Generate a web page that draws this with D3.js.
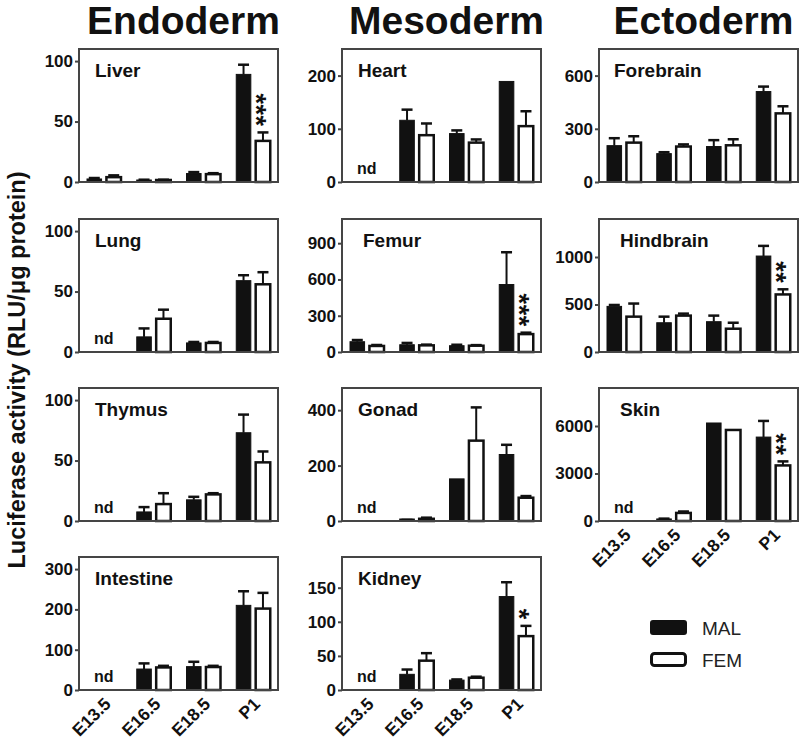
<!DOCTYPE html>
<html>
<head>
<meta charset="utf-8">
<script src="https://cdn.jsdelivr.net/npm/d3@7"></script>
<style>
  html, body { margin: 0; padding: 0; background: #fff; }
  svg { display: block; }
  text { font-family: "Liberation Sans", Arial, Helvetica, sans-serif; }
</style>
</head>
<body>
<script>
// ---------------- DATA ----------------
const categories = ["E13.5", "E16.5", "E18.5", "P1"];
const series = ["MAL", "FEM"];
const germLayers = ["Endoderm", "Mesoderm", "Ectoderm"];
const yAxisTitle = "Luciferase activity (RLU/\u03bcg protein)";

const panels = ["Liver", "Lung", "Thymus", "Intestine",
                "Heart", "Femur", "Gonad", "Kidney",
                "Forebrain", "Hindbrain", "Skin"];
const panelLayer = [0, 0, 0, 0, 1, 1, 1, 1, 2, 2, 2];

// y-axis maxima and tick labels per panel
const yMax = [110, 110, 110, 330, 250, 1100, 480, 195, 750, 1400, 8400];
const yTicks = [
  [0, 50, 100], [0, 50, 100], [0, 50, 100], [0, 100, 200, 300],
  [0, 100, 200], [0, 300, 600, 900], [0, 200, 400], [0, 50, 100, 150],
  [0, 300, 600], [0, 500, 1000], [0, 3000, 6000]
];

// means and SEM (null = not detected, "nd")
const malMean = [
  [2.5, 1.5, 7, 89],
  [null, 12.5, 7.5, 59],
  [null, 7.5, 17.5, 73],
  [null, 52, 58, 210],
  [null, 116, 91, 189],
  [85, 60, 52, 558],
  [null, 3, 152, 240],
  [null, 23, 14.5, 137],
  [205, 160, 200, 510],
  [480, 308, 319, 1010],
  [null, 130, 6190, 5300]
];
const malErr = [
  [0.8, 0.4, 1.2, 8],
  [null, 7, 0.8, 4.5],
  [null, 4, 2.5, 15],
  [null, 14, 12, 35],
  [null, 20, 6, 0],
  [14, 15, 8, 267],
  [null, 1, 0, 35],
  [null, 7, 1, 21],
  [42, 8, 36, 28],
  [15, 64, 64, 107],
  [null, 20, 0, 1020]
];
const femMean = [
  [4, 1.5, 6.5, 34],
  [null, 27.5, 7.5, 56],
  [null, 14, 22, 48.5],
  [null, 56, 57, 202],
  [null, 88, 74, 105],
  [50, 55, 52, 148],
  [null, 8, 290, 84],
  [null, 43, 18, 79],
  [222, 200, 207, 387],
  [372, 383, 245, 606],
  [null, 510, 5750, 3510]
];
const femErr = [
  [1.5, 0.4, 0.8, 7],
  [null, 7.5, 0.8, 10],
  [null, 9, 1, 9],
  [null, 4, 3, 39],
  [null, 22, 6, 28],
  [8, 6, 5, 12],
  [null, 4, 120, 6],
  [null, 11, 1.5, 15],
  [36, 12, 34, 40],
  [138, 21, 63, 54],
  [null, 90, 0, 255]
];

// significance marks (on FEM bar at P1)
const sigPanels = ["Liver", "Femur", "Hindbrain", "Skin", "Kidney"];
const sigMarks = ["***", "***", "**", "**", "*"];

// ---------------- LAYOUT ----------------
const W = 800, H = 743;
const colX = [79, 342, 599];
const rowY = [49, 219, 388, 557];
const pw = 199, ph = 133;
const labelDx = [16, 16, 16, 16, 16, 21, 16, 16, 15, 21, 21];
const frameColor = "#454545";
const FONT = "'Liberation Sans', Arial, Helvetica, sans-serif";

const svg = d3.select("body").append("svg")
  .attr("width", W).attr("height", H)
  .attr("viewBox", `0 0 ${W} ${H}`);
svg.append("rect").attr("width", W).attr("height", H).attr("fill", "#fff");

// column titles
germLayers.forEach((g, i) => {
  svg.append("text")
    .attr("x", colX[i] + pw / 2 + 5)
    .attr("y", 34)
    .attr("text-anchor", "middle")
    .attr("font-size", 39)
    .attr("font-weight", "bold")
    .attr("fill", "#111")
    .text(g);
});

// y axis title
svg.append("text")
  .attr("transform", "translate(25,370) rotate(-90)")
  .attr("text-anchor", "middle")
  .attr("font-size", 23.5)
  .attr("font-weight", "bold")
  .attr("fill", "#111")
  .text(yAxisTitle);

const x = d3.scaleBand().domain(categories).range([0, pw]);
const xs = d3.scaleBand().domain(series).range([8, 42]).paddingInner(0.25);

// which panels are bottom of their column
const lastInCol = {};
panels.forEach((p, i) => { lastInCol[panelLayer[i]] = i; });

panels.forEach((name, i) => {
  const col = panelLayer[i];
  const row = panels.filter((q, j) => panelLayer[j] === col).indexOf(name);
  const g = svg.append("g").attr("transform", `translate(${colX[col]},${rowY[row]})`);
  const y = d3.scaleLinear().domain([0, yMax[i]]).range([ph, 0]);

  // y axis
  const ax = g.append("g")
    .call(d3.axisLeft(y).tickValues(yTicks[i]).tickSize(4).tickPadding(2).tickFormat(d3.format("d")));
  ax.select(".domain").remove();
  ax.selectAll("line").attr("stroke", frameColor).attr("stroke-width", 2);
  ax.selectAll("text")
    .attr("font-family", FONT)
    .attr("font-size", 17)
    .attr("font-weight", "bold")
    .attr("fill", "#111");

  // bars
  const rows = [];
  categories.forEach((c, k) => {
    rows.push({ c, s: "MAL", v: malMean[i][k], e: malErr[i][k] });
    rows.push({ c, s: "FEM", v: femMean[i][k], e: femErr[i][k] });
  });
  const valid = rows.filter(d => d.v !== null);

  // error bars (upward)
  const eb = g.append("g");
  valid.filter(d => d.e > 0).forEach(d => {
    const cx = x(d.c) + xs(d.s) + xs.bandwidth() / 2;
    eb.append("line")
      .attr("x1", cx).attr("x2", cx)
      .attr("y1", y(d.v)).attr("y2", y(d.v + d.e))
      .attr("stroke", "#111").attr("stroke-width", 2);
    eb.append("line")
      .attr("x1", cx - 5.5).attr("x2", cx + 5.5)
      .attr("y1", y(d.v + d.e)).attr("y2", y(d.v + d.e))
      .attr("stroke", "#111").attr("stroke-width", 2.5);
  });

  g.append("g").selectAll("rect").data(valid).join("rect")
    .attr("x", d => x(d.c) + xs(d.s))
    .attr("width", xs.bandwidth())
    .attr("y", d => Math.min(y(d.v), ph - 2))
    .attr("height", d => Math.max(ph - y(d.v), 2))
    .attr("fill", d => d.s === "MAL" ? "#111" : "#fff")
    .attr("stroke", "#111")
    .attr("stroke-width", d => d.s === "MAL" ? 1 : 2.5);

  // nd labels
  categories.forEach((c, k) => {
    if (malMean[i][k] === null && femMean[i][k] === null) {
      g.append("text")
        .attr("x", x(c) + x.bandwidth() / 2)
        .attr("y", ph - 8)
        .attr("text-anchor", "middle")
        .attr("font-size", 16)
        .attr("font-weight", "bold")
        .attr("fill", "#111")
        .text("nd");
    }
  });

  // frame
  g.append("rect")
    .attr("x", 0).attr("y", 0).attr("width", pw).attr("height", ph)
    .attr("fill", "none").attr("stroke", frameColor).attr("stroke-width", 2);

  // panel label
  g.append("text")
    .attr("x", labelDx[i]).attr("y", 28)
    .attr("font-size", 19)
    .attr("font-weight", "bold")
    .attr("fill", "#111")
    .text(name);

  // significance: asterisks stacked vertically (one rotated text)
  const si = sigPanels.indexOf(name);
  if (si >= 0) {
    const k = categories.length - 1;
    const top = y(femMean[i][k] + (femErr[i][k] || 0));
    const cx = x(categories[k]) + xs("FEM") + xs.bandwidth() / 2;
    const F = 27;
    g.append("text")
      .attr("transform", `translate(${cx - 0.58 * F},${top - 6}) rotate(90)`)
      .attr("text-anchor", "end")
      .attr("font-size", F)
      .attr("font-weight", "bold")
      .attr("letter-spacing", 0.5)
      .attr("fill", "#111")
      .text(sigMarks[si]);
  }

  // x labels on bottom panel of each column
  if (lastInCol[col] === i) {
    categories.forEach(c => {
      g.append("text")
        .attr("transform", `translate(${x(c) + x.bandwidth() / 2 + 8},${ph + 15}) rotate(-45)`)
        .attr("text-anchor", "end")
        .attr("font-size", 17.5)
        .attr("font-weight", "bold")
        .attr("fill", "#111")
        .text(c);
    });
  }
});

// legend
const leg = svg.append("g").attr("transform", "translate(650,620)");
series.forEach((s, i) => {
  const yy = i * 32;
  leg.append("rect")
    .attr("x", s === "MAL" ? 0 : 1.5).attr("y", yy + (s === "MAL" ? 0 : 1.5))
    .attr("width", s === "MAL" ? 37 : 34).attr("height", s === "MAL" ? 15 : 12)
    .attr("rx", 3)
    .attr("fill", s === "MAL" ? "#111" : "#fff")
    .attr("stroke", "#111")
    .attr("stroke-width", s === "MAL" ? 0 : 3);
  leg.append("text")
    .attr("x", 52).attr("y", yy + 15)
    .attr("font-size", 19)
    .attr("fill", "#222")
    .text(s);
});
</script>
</body>
</html>
